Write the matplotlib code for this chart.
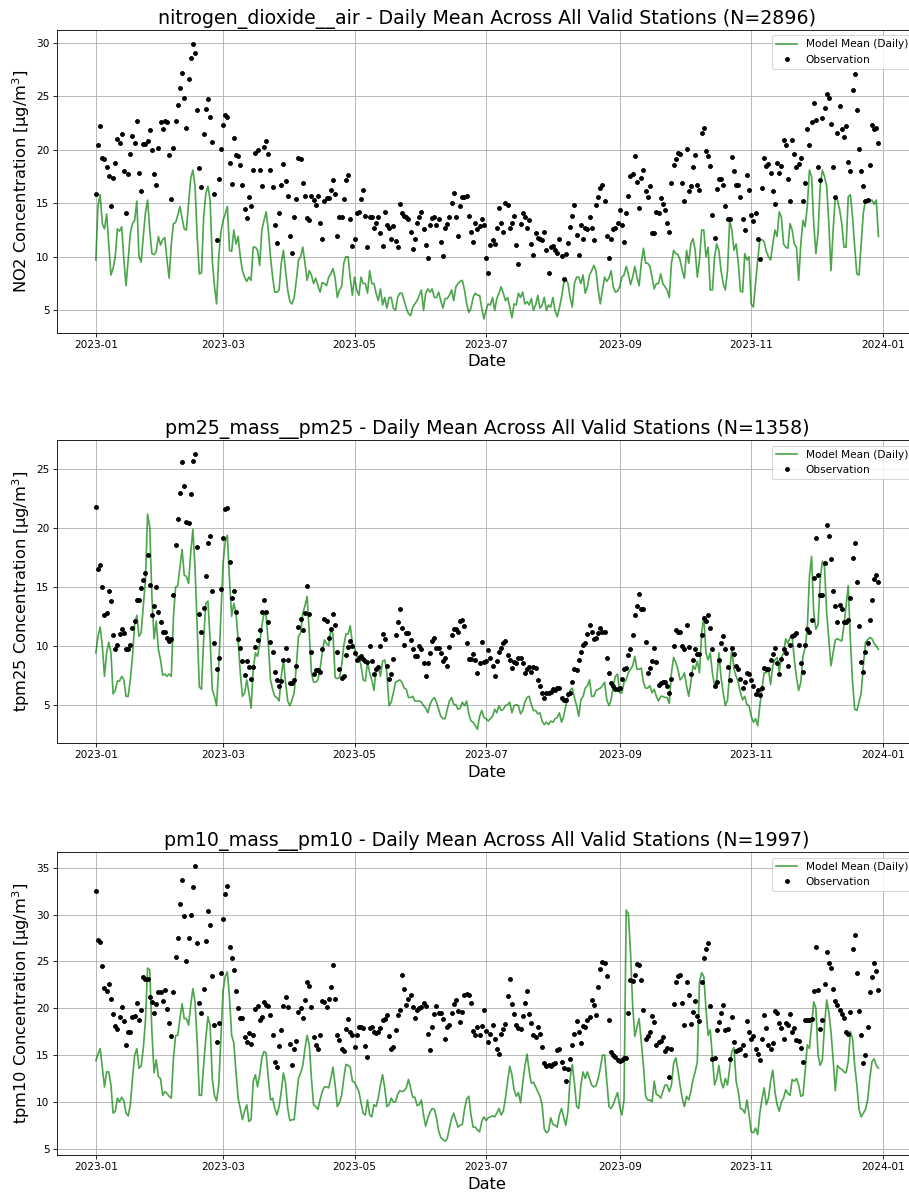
import numpy as np
import pandas as pd
import matplotlib
matplotlib.use("Agg")
import matplotlib.pyplot as plt
import matplotlib.dates as mdates

START = "2023-01-01"

# daily values (Jan 1 .. Dec 30, 2023)
no2_model = [
    9.7, 14.8, 15.8, 13.1, 12.6, 14.0, 11.2, 8.3, 8.9, 10.0,
    12.6, 12.4, 12.8, 9.7, 7.3, 9.7, 12.2, 13.1, 13.4, 15.2,
    10.0, 9.5, 11.9, 14.1, 15.3, 12.5, 10.3, 10.2, 10.5, 11.9,
    11.1, 11.6, 11.8, 9.7, 8.0, 11.2, 13.1, 13.2, 13.9, 14.7,
    13.6, 12.6, 12.5, 15.0, 17.3, 18.1, 16.6, 11.9, 8.4, 8.5,
    13.7, 15.9, 16.6, 15.3, 9.7, 7.3, 5.6, 10.0, 12.3, 13.4,
    14.0, 14.7, 10.6, 10.5, 12.5, 11.2, 11.9, 10.0, 8.7, 8.1,
    7.7, 8.1, 7.8, 10.9, 10.9, 10.6, 9.2, 12.5, 13.4, 14.2,
    12.5, 10.0, 8.1, 6.7, 6.7, 6.9, 9.4, 10.6, 8.7, 6.9,
    5.8, 5.6, 6.2, 7.8, 9.7, 10.0, 10.9, 9.4, 7.8, 8.7,
    8.3, 7.5, 8.0, 7.3, 6.7, 7.6, 7.5, 7.3, 8.1, 8.4,
    8.9, 8.0, 6.2, 6.9, 7.2, 9.4, 10.0, 10.0, 8.0, 6.4,
    8.1, 6.9, 6.4, 8.1, 7.5,
    7.5, 6.6, 8.7, 7.5, 7.5, 6.6, 5.9, 7.0, 5.5, 6.2,
    5.2, 6.2, 6.2, 5.2, 5.0, 6.2, 6.6, 6.6, 5.9, 5.2,
    4.7, 4.5, 5.3, 5.6, 5.9, 6.4, 6.9, 5.0, 6.6, 7.0,
    6.7, 7.0, 6.2, 6.2, 6.7, 5.9, 5.2, 6.1, 6.1, 6.4,
    6.9, 5.9, 7.2, 7.5, 7.7, 7.8, 6.9, 5.6, 4.8, 5.2,
    6.2, 6.6, 6.4, 6.4, 5.2, 4.2, 5.0, 5.6, 5.5, 6.2,
    5.0, 6.1, 6.6, 7.2, 6.6, 5.9, 6.2, 5.3, 4.3, 5.6,
    5.5, 6.6, 6.2, 6.7, 5.6, 5.8, 5.5, 6.1, 5.0, 5.5,
    6.4, 5.2, 5.5, 6.2, 5.0, 5.5, 5.3, 6.2, 5.0, 4.4,
    5.2, 6.2, 7.5, 8.0, 7.5, 6.2, 5.3, 7.5, 8.1, 8.1,
    7.5, 8.3, 6.6, 7.2, 8.3, 8.7, 9.2, 8.7, 6.9, 5.6,
    6.9, 8.1, 7.7, 8.0, 8.7, 7.2, 6.7, 6.8, 7.2, 8.1,
    8.3, 9.1, 8.4,
    7.4, 8.1, 9.1, 8.1, 7.3, 9.4, 10.8, 9.4, 9.4, 9.1,
    8.1, 7.0, 7.5, 7.5, 8.4, 7.5, 7.2, 6.9, 6.2, 9.4,
    10.6, 10.3, 10.2, 9.7, 8.7, 8.0, 10.6, 9.4, 11.2, 11.7,
    10.6, 8.1, 9.7, 12.5, 12.5, 10.0, 10.9, 6.9, 6.9, 10.0,
    11.2, 10.6, 8.7, 7.5, 6.9, 8.7, 13.4, 12.5, 10.6, 11.2,
    9.4, 6.8, 6.7, 10.3, 9.7, 10.0, 5.6, 5.3, 7.5, 9.7,
    11.6, 11.6, 11.4, 10.5, 10.0, 9.7, 11.2, 12.5, 11.9, 14.2,
    13.7, 11.2, 10.9, 10.8, 13.1, 12.5, 11.2, 10.9, 7.8, 11.2,
    13.4, 12.8, 14.7, 18.1, 17.5, 13.1, 10.3, 12.2, 16.6, 18.1,
    17.5, 16.6, 13.1, 8.7, 12.5, 15.6, 15.3, 14.4, 13.1, 10.9,
    10.9, 15.6, 15.8, 13.7, 10.9, 8.4, 8.3, 11.2, 14.1, 15.3,
    15.2, 15.2, 15.3, 14.9, 15.3, 11.9,
]
no2_obs = [
    15.9, 20.4, 22.2, 19.2, 19.1, 18.4, 17.5, 14.7, 17.4, 18.8,
    21.0, 20.6, 21.5, 18.0, 14.1, 17.7, 19.6, 21.3, 20.6, 22.7,
    17.8, 16.1, 20.5, 20.5, 20.8, 21.8, 20.0, 17.7, 16.7, 20.2,
    22.6, 21.9, 22.7, 22.6, 19.5, 15.4, 20.2, 22.7, 24.2, 25.8,
    27.2, 24.8, 22.0, 26.6, 28.6, 29.9, 29.0, 23.7, 18.3, 16.5,
    21.5, 23.8, 24.7, 23.1, 20.7, 15.9, 11.6, 17.3, 20.1, 22.3,
    23.2, 23.1, 18.8, 16.8, 21.1, 19.5, 19.4, 18.6, 16.7, 14.5,
    13.6, 15.6, 14.7, 18.1, 19.7, 20.0, 18.1, 16.6, 20.3, 20.8,
    19.6, 18.1, 16.5, 13.0, 11.3, 14.1, 16.7, 18.7, 17.1, 15.7,
    11.9, 10.4, 13.7, 15.4, 19.2, 19.1, 16.9, 15.7, 13.6, 13.4,
    15.7, 15.3, 14.8, 15.7, 13.2, 11.7, 15.2, 15.5, 15.5, 16.2,
    17.2, 15.9, 11.9, 13.7, 13.7, 15.4, 17.2, 17.6, 13.5, 11.0,
    11.7, 14.1, 14.2, 15.4, 16.2, 13.8,
    10.9, 13.7, 13.7, 12.7, 13.2, 13.7, 12.2, 11.0, 14.2, 13.0,
    12.7, 11.7, 12.9, 11.5, 10.9, 14.9, 14.1, 13.8, 13.7, 13.5,
    12.3, 10.7, 11.7, 13.2, 13.7, 14.2, 12.6, 11.1, 9.9, 13.0,
    13.6, 13.7, 13.0, 13.5, 11.4, 10.1, 12.7, 13.1, 13.7, 15.0,
    16.0, 13.7, 11.9, 14.7, 15.6, 15.6, 15.7, 13.8, 12.3, 11.4,
    13.2, 12.6, 12.9, 13.5, 13.0, 9.9, 8.5, 11.1, 11.6, 11.2,
    12.7, 14.6, 13.2, 12.3, 15.0, 14.8, 12.7, 13.2, 13.8, 11.1,
    9.3, 13.1, 14.1, 13.7, 12.7, 13.4, 11.2, 10.2, 12.2, 11.8,
    11.7, 11.6, 12.3, 10.6, 8.5, 10.9, 11.0, 10.6, 10.4, 11.7,
    10.1, 7.9, 10.3, 11.3, 12.8, 13.8, 14.8, 12.0, 10.2, 13.0,
    11.7, 12.7, 12.6, 13.7, 12.7, 11.6, 14.8, 15.6, 16.4, 16.7,
    15.2, 11.9, 9.9, 11.7, 12.6, 12.7, 13.2, 14.4, 13.0, 11.4,
    14.1, 15.7, 17.5, 17.7, 19.4, 17.0, 14.6,
    17.4, 18.1, 16.1, 15.6, 16.6, 12.2, 12.2, 14.2, 14.1, 15.5,
    14.9, 14.4, 13.2, 12.3, 16.9, 18.6, 19.1, 19.7, 19.6, 16.9,
    15.2, 20.1, 16.1, 16.6, 18.4, 19.5, 16.7, 16.2, 21.6, 22.0,
    19.9, 19.4, 18.5, 13.9, 11.8, 16.3, 17.3, 17.3, 16.7, 14.7,
    13.5, 13.5, 19.3, 18.0, 16.7, 16.7, 15.6, 13.5, 12.5, 17.6,
    16.2, 13.9, 13.3, 14.1, 11.7, 9.8, 16.4, 19.2, 18.5, 18.7,
    17.8, 16.1, 14.9, 18.8, 17.8, 18.5, 20.9, 20.4, 17.3, 15.2,
    20.9, 19.6, 18.4, 18.7, 19.2, 15.2, 16.9, 21.9, 20.4, 22.6,
    24.4, 22.8, 18.4, 17.2, 23.0, 23.9, 25.2, 24.8, 22.4, 18.4,
    15.6, 21.6, 24.1, 21.9, 21.2, 22.2, 18.9, 18.0, 25.6, 27.1,
    23.7, 20.1, 18.0, 16.6, 15.2, 15.3, 18.6, 22.3, 21.9, 22.0,
    20.6,
]

pm25_model = [
    9.4, 10.8, 11.6, 10.0, 7.4, 9.4, 10.3, 9.4, 5.9, 6.2,
    7.0, 7.0, 7.4, 7.1, 5.7, 5.7, 7.1, 9.1, 11.8, 12.6,
    10.8, 11.1, 13.4, 15.6, 21.2, 20.1, 14.2, 10.6, 12.1, 9.7,
    8.8, 7.5, 7.6, 7.4, 7.6, 7.4, 12.5, 15.0, 15.1, 16.7,
    18.2, 16.0, 15.9, 15.3, 17.9, 19.9, 16.7, 11.7, 6.5, 6.3,
    10.5, 13.6, 13.8, 10.5, 6.3, 5.7, 4.9, 8.3, 12.5, 17.0,
    18.8, 19.4, 15.6, 12.5, 13.6, 12.8, 10.5, 7.7, 5.7, 6.0,
    7.1, 6.0, 4.7, 8.0, 9.4, 9.1, 10.2, 11.7, 12.8, 12.5,
    10.2, 7.1, 6.3, 5.7, 5.6, 5.3, 7.4, 8.8, 6.9, 5.3,
    4.9, 5.4, 6.0, 8.3, 10.8, 11.1, 12.8, 13.4, 14.2, 11.1,
    7.7, 6.9, 6.9, 7.1, 8.0, 9.4, 10.5, 10.2, 10.0, 11.4,
    11.0, 7.3, 7.2, 7.3, 8.3, 10.0, 11.0, 11.0, 11.7, 10.2,
    9.8, 9.1, 9.1, 8.3, 7.1, 7.0,
    8.6, 7.7, 7.1, 6.2, 8.0, 8.3, 7.4, 8.7, 8.8, 7.7,
    4.9, 5.2, 6.0, 6.9, 7.0, 7.1, 6.9, 6.4, 6.3, 5.6,
    5.6, 5.7, 5.3, 5.3, 5.3, 5.2, 4.9, 4.7, 4.3, 5.0,
    5.4, 5.6, 5.2, 4.6, 4.0, 3.8, 3.8, 4.6, 5.3, 5.6,
    5.0, 5.0, 4.6, 4.7, 5.2, 4.9, 5.3, 4.2, 3.6, 3.5,
    3.2, 2.9, 4.0, 4.5, 3.9, 3.8, 3.6, 3.8, 4.0, 4.6,
    4.3, 4.9, 4.5, 4.6, 4.9, 5.0, 5.2, 4.3, 4.9, 5.0,
    4.9, 4.2, 4.5, 5.2, 5.6, 5.7, 5.0, 4.5, 4.5, 4.2,
    4.3, 3.6, 3.3, 3.5, 3.3, 3.6, 3.5, 3.8, 3.9, 4.3,
    3.5, 4.0, 4.9, 5.7, 6.2, 6.4, 5.6, 4.9, 4.0, 5.4,
    5.7, 6.4, 6.6, 7.1, 5.7, 5.7, 6.2, 6.3, 6.4, 6.6,
    6.9, 5.4, 4.9, 5.4, 6.6, 7.4, 7.6, 6.0, 6.0, 6.9,
    7.1, 7.7, 8.0, 8.3, 9.1, 8.0,
    8.0, 8.1, 6.9, 6.4, 6.4, 6.6, 6.0, 6.3, 5.7, 5.3,
    5.7, 5.7, 5.6, 5.6, 5.1, 7.7, 9.0, 8.6, 8.0, 7.1,
    7.3, 7.7, 6.6, 5.7, 6.9, 8.3, 8.0, 8.7, 7.7, 11.1,
    12.5, 9.4, 8.8, 9.4, 7.7, 6.6, 7.1, 9.4, 7.3, 6.0,
    4.9, 5.4, 7.7, 9.8, 8.0, 7.4, 6.9, 6.0, 5.4, 5.7,
    5.0, 4.9, 4.0, 3.5, 3.8, 3.2, 4.9, 6.4, 7.7, 7.7,
    8.0, 6.7, 8.3, 8.8, 9.0, 7.8, 9.0, 9.4, 10.6, 10.2,
    10.7, 10.8, 8.8, 7.3, 6.2, 6.9, 9.1, 9.8, 11.4, 15.9,
    17.6, 12.8, 11.4, 11.8, 15.6, 17.2, 16.7, 12.8, 10.5, 8.3,
    9.4, 10.5, 10.6, 10.5, 10.4, 11.7, 13.4, 15.1, 10.5, 6.9,
    4.6, 4.5, 5.2, 6.0, 8.3, 10.3, 10.5, 10.7, 10.6, 10.2,
    10.0, 9.7,
]
pm25_obs = [
    21.8, 16.5, 16.9, 15.0, 12.6, 12.8, 14.7, 13.8, 10.9, 9.7,
    10.1, 11.0, 11.4, 11.1, 9.7, 9.7, 10.1, 11.5, 12.1, 13.9,
    13.9, 14.9, 15.6, 16.2, 17.7, 15.2, 12.6, 13.4, 15.0, 12.9,
    12.0, 11.2, 11.2, 10.7, 10.4, 10.6, 14.3, 18.6, 20.8, 23.0,
    25.6, 23.6, 20.5, 20.4, 22.9, 25.7, 26.3, 18.4, 12.7, 11.2,
    13.2, 15.9, 18.7, 19.3, 14.7, 10.2, 8.0, 9.0, 14.8, 19.2,
    21.6, 21.7, 17.1, 14.1, 14.7, 12.9, 10.6, 9.8, 8.7, 7.5,
    8.7, 8.2, 7.2, 8.2, 9.9, 10.5, 11.3, 12.9, 13.9, 12.9,
    12.0, 10.3, 9.5, 7.8, 7.1, 6.6, 7.0, 8.8, 9.8, 8.8,
    6.8, 6.8, 7.1, 8.3, 11.6, 12.3, 11.3, 12.8, 15.1, 12.7,
    9.5, 7.6, 7.9, 7.9, 7.8, 9.7, 12.3, 12.1, 10.7, 11.4,
    12.7, 11.8, 9.5, 8.0, 7.3, 7.4, 9.2, 9.9, 10.4, 10.0,
    9.4, 8.8, 9.0, 9.1, 8.9, 8.7, 8.6,
    10.0, 8.7, 7.6, 8.0, 8.2, 10.0, 11.0, 10.6, 8.3, 7.2,
    7.6, 8.9, 10.9, 12.0, 13.1, 11.5, 10.1, 11.1, 11.1, 10.5,
    9.7, 9.1, 9.1, 10.0, 9.7, 8.5, 7.4, 8.5, 9.4, 10.4,
    10.7, 9.8, 9.8, 9.4, 8.7, 9.0, 8.3, 9.9, 10.9, 11.4,
    11.4, 11.2, 12.1, 12.2, 11.7, 10.2, 8.9, 8.9, 9.3, 8.8,
    7.7, 8.5, 10.3, 8.6, 8.7, 9.6, 9.0, 8.3, 7.4, 8.7,
    9.5, 9.8, 10.2, 10.4, 9.2, 8.8, 8.1, 8.6, 8.5, 9.0,
    9.0, 8.5, 7.7, 8.0, 8.2, 7.8, 8.2, 8.1, 7.1, 6.6,
    6.0, 5.6, 6.0, 6.0, 6.1, 6.3, 6.2, 6.4, 6.4, 5.6,
    5.4, 5.4, 5.9, 6.0, 6.9, 8.0, 7.9, 8.8, 9.5, 10.1,
    10.2, 11.0, 11.8, 11.2, 10.6, 10.7, 11.1, 11.5, 11.2, 11.2,
    9.0, 7.7, 6.8, 6.6, 6.3, 6.3, 6.4, 7.2, 8.0, 8.1,
    9.2, 9.7, 10.9, 12.6, 13.4, 14.4,
    13.1, 13.1, 10.3, 7.7, 8.1, 8.7, 9.8, 8.6, 6.7, 6.8,
    6.9, 6.9, 6.6, 6.0, 7.2, 10.0, 11.3, 11.2, 11.2, 10.0,
    9.7, 11.8, 9.9, 7.6, 8.8, 9.7, 9.3, 9.3, 10.9, 12.4,
    12.1, 12.6, 11.5, 9.7, 6.6, 6.9, 8.8, 10.2, 10.8, 9.7,
    8.2, 7.1, 9.8, 9.3, 8.3, 8.0, 7.2, 6.4, 6.9, 7.7,
    7.6, 7.1, 6.6, 5.9, 6.2, 5.8, 6.4, 8.1, 8.0, 8.0,
    8.8, 9.3, 9.8, 8.5, 7.6, 8.9, 9.7, 9.4, 8.3, 10.1,
    10.8, 10.9, 11.1, 10.1, 8.5, 7.8, 10.1, 11.4, 11.2, 12.2,
    15.8, 19.2, 16.0, 14.3, 14.3, 17.0, 20.3, 19.3, 17.4, 14.7,
    13.4, 12.0, 13.5, 13.1, 12.0, 12.0, 12.2, 14.1, 17.5, 18.7,
    15.4, 11.7, 8.6, 7.8, 9.5, 10.2, 12.2, 13.9, 15.7, 16.0,
    15.4,
]

pm10_model = [
    14.4, 15.1, 15.7, 13.6, 11.6, 13.2, 13.2, 11.8, 8.8, 9.0,
    10.4, 10.0, 10.5, 10.1, 8.8, 8.5, 9.7, 12.5, 15.0, 15.7,
    13.6, 13.8, 15.7, 18.6, 24.3, 24.1, 17.5, 13.1, 14.5, 12.7,
    12.5, 10.7, 11.1, 10.9, 10.6, 10.4, 14.7, 17.1, 17.1, 18.9,
    20.5, 18.9, 18.9, 18.2, 20.3, 22.1, 20.7, 16.4, 10.7, 10.7,
    13.9, 16.8, 19.1, 18.2, 12.5, 10.7, 10.1, 11.8, 16.8, 21.8,
    23.4, 23.9, 21.1, 17.1, 16.3, 13.2, 10.4, 9.3, 8.1, 9.0,
    9.7, 7.9, 8.1, 12.2, 12.9, 11.6, 12.9, 14.7, 15.4, 15.2,
    12.5, 10.2, 10.4, 9.3, 8.6, 9.5, 11.1, 13.1, 12.0, 9.3,
    8.0, 8.1, 8.1, 10.4, 12.5, 13.1, 13.9, 15.7, 17.1, 16.1,
    12.5, 9.7, 9.5, 9.2, 10.2, 11.1, 11.6, 11.6, 11.5, 12.5,
    13.7, 11.8, 9.5, 9.9, 10.7, 12.5, 14.0, 13.9, 13.7, 12.2,
    12.1, 11.6, 11.1, 9.9, 8.8, 8.6,
    10.2, 8.6, 8.4, 9.7, 9.5, 10.4, 11.8, 12.9, 11.5, 9.5,
    9.7, 10.4, 10.0, 10.0, 10.8, 11.2, 11.1, 11.2, 11.5, 12.4,
    11.5, 10.5, 10.5, 9.6, 9.7, 10.2, 8.6, 7.4, 8.3, 8.9,
    9.3, 9.2, 8.3, 6.9, 6.2, 6.0, 5.8, 6.1, 7.2, 8.2, 8.8,
    8.0, 7.3, 7.5, 7.6, 9.2, 10.3, 10.6, 8.6, 7.3, 7.3, 7.0,
    6.8, 7.9, 8.4, 8.0, 8.3, 8.4, 8.5, 8.4, 8.8, 9.3,
    8.6, 9.0, 10.4, 12.2, 13.8, 12.9, 11.3, 10.6, 11.0, 9.9,
    12.0, 13.8, 15.1, 13.3, 12.0, 12.1, 11.6, 11.1, 10.6, 9.7,
    7.1, 6.7, 6.9, 8.3, 7.6, 7.5, 7.3, 8.6, 9.3, 8.4,
    7.5, 9.0, 12.5, 14.0, 12.0, 9.5, 9.3, 11.8, 13.2, 12.5,
    13.2, 12.5, 11.8, 11.6, 11.7, 12.5, 13.6, 15.0, 15.0, 12.2,
    9.5, 9.3, 9.7, 10.4, 11.0, 9.5, 8.6, 10.2, 30.5, 30.1,
    26.0, 20.3, 17.0, 18.0, 18.9,
    16.4, 13.9, 10.6, 10.2, 10.2, 10.0, 12.2, 10.8, 10.7, 10.4,
    11.1, 11.8, 11.8, 11.1, 11.8, 14.1, 14.7, 13.4, 11.8, 10.4,
    9.5, 10.6, 10.2, 11.1, 12.4, 13.2, 14.3, 22.8, 23.8, 23.4,
    20.0, 17.1, 17.7, 14.7, 11.8, 12.5, 13.9, 12.2, 11.5, 12.5,
    11.8, 13.6, 15.4, 15.8, 12.2, 11.1, 9.3, 9.2, 8.8, 10.2,
    8.6, 6.8, 6.7, 7.2, 6.5, 8.8, 10.3, 11.5, 9.7, 10.4,
    12.2, 13.4, 11.1, 9.7, 9.0, 10.0, 10.4, 11.3, 10.9, 10.7,
    12.4, 12.2, 12.5, 11.8, 10.6, 10.7, 13.2, 16.1, 15.7, 18.2,
    20.7, 20.0, 15.0, 13.9, 14.5, 18.2, 20.9, 19.6, 17.5, 14.5,
    11.2, 13.9, 13.6, 13.5, 13.2, 13.1, 14.3, 17.5, 16.8, 13.9,
    11.8, 9.2, 8.4, 8.8, 9.2, 10.2, 12.5, 14.3, 14.6, 13.9,
    13.6,
]
pm10_obs = [
    32.5, 27.3, 27.1, 24.5, 22.2, 21.8, 22.6, 21.0, 19.4, 18.1,
    17.8, 19.1, 20.1, 18.6, 16.1, 17.5, 17.5, 19.1, 19.2, 20.6,
    18.7, 19.8, 23.3, 23.1, 23.1, 21.2, 20.7, 19.5, 20.5, 21.7,
    21.7, 20.8, 22.0, 19.9, 18.4, 17.0, 21.7, 25.5, 27.5, 31.1,
    33.7, 29.9, 25.1, 27.5, 30.0, 33.0, 35.2, 27.0, 20.6, 19.5,
    22.1, 27.2, 30.4, 28.9, 23.5, 18.2, 16.4, 18.4, 23.8, 29.5,
    32.2, 33.1, 26.6, 25.4, 24.1, 21.8, 20.0, 19.0, 19.0, 16.9,
    16.4, 17.4, 16.2, 17.2, 19.9, 20.2, 18.8, 19.1, 20.7, 20.4,
    20.2, 19.3, 17.2, 14.3, 13.7, 16.0, 17.7, 20.2, 21.2, 20.1,
    16.2, 13.9, 15.7, 16.5, 19.6, 20.0, 19.0, 20.9, 22.8, 22.4,
    20.1, 16.9, 16.1, 15.7, 17.1, 20.8, 20.7, 20.1, 21.0, 22.3,
    24.6, 21.0, 17.1, 16.6, 15.7, 15.4, 17.8, 18.9, 17.5, 17.2,
    15.9, 17.1, 18.0, 18.0, 17.9, 16.0, 14.8,
    17.9, 18.0, 17.5, 17.4, 17.5, 17.9, 18.7, 18.9, 19.3, 17.0,
    15.6, 15.9, 17.7, 19.3, 19.8, 23.6, 22.1, 20.3, 21.0, 21.4,
    20.1, 19.0, 19.8, 20.0, 20.1, 20.6, 20.2, 17.3, 15.5, 18.0,
    19.4, 20.2, 19.5, 19.5, 18.9, 16.7, 18.0, 18.2, 19.5, 20.5,
    20.9, 19.7, 18.5, 19.6, 21.4, 21.5, 21.4, 20.6, 17.6, 17.1,
    18.0, 17.2, 18.1, 19.8, 17.6, 16.4, 17.3, 18.2, 16.7, 15.6,
    15.1, 17.3, 17.8, 18.3, 21.3, 23.1, 20.5, 19.4, 18.2, 17.9,
    17.8, 19.2, 20.6, 21.9, 19.4, 18.4, 17.2, 16.9, 18.0, 17.3,
    15.9, 14.2, 13.8, 13.9, 13.8, 14.0, 14.2, 15.5, 15.7, 14.3,
    13.6, 12.2, 13.5, 14.6, 16.1, 17.3, 18.6, 17.5, 16.3, 18.1,
    18.0, 18.7, 19.1, 20.9, 20.3, 19.3, 22.3, 24.2, 24.9, 24.8,
    23.4, 18.8, 15.3, 15.0, 14.8, 14.5, 14.4, 14.5, 14.7, 14.7,
    19.5, 23.0, 22.9, 23.6, 24.7, 24.6, 23.0,
    19.8, 16.7, 17.0, 17.5, 19.2, 18.5, 16.1, 16.4, 16.5, 16.9,
    15.4, 15.8, 12.7, 15.7, 20.5, 22.8, 23.5, 23.6, 20.6, 18.2,
    22.8, 21.4, 18.3, 19.6, 20.8, 19.2, 18.6, 22.8, 25.4, 26.3,
    27.0, 20.2, 14.6, 14.7, 17.7, 18.5, 19.5, 20.3, 17.7,
    17.8, 14.6, 19.1, 16.4, 15.4, 15.5, 15.7, 16.1, 15.0, 18.6,
    17.5, 16.7, 17.0, 15.7, 15.1, 14.5, 16.7, 19.3, 17.9, 16.1,
    15.7, 16.3, 19.7, 19.5, 18.4, 17.9, 16.7, 18.4, 18.2, 19.4,
    17.5, 17.9, 16.6, 16.5, 15.8, 14.3, 18.7, 18.7, 18.8, 18.9,
    21.9, 26.6, 22.0, 17.8, 18.8, 22.6, 26.0, 24.8, 24.3, 22.1,
    20.8, 20.4, 19.8, 19.4, 19.0, 17.5, 17.3, 19.6, 26.3, 27.8,
    23.8, 19.7, 17.2, 14.2, 15.0, 18.0, 21.7, 23.3, 24.8, 24.0,
    22.0,
]

panels = [
    ("nitrogen_dioxide__air - Daily Mean Across All Valid Stations (N=2896)",
     "NO2 Concentration [µg/m$^3$]", no2_model, no2_obs),
    ("pm25_mass__pm25 - Daily Mean Across All Valid Stations (N=1358)",
     "tpm25 Concentration [µg/m$^3$]", pm25_model, pm25_obs),
    ("pm10_mass__pm10 - Daily Mean Across All Valid Stations (N=1997)",
     "tpm10 Concentration [µg/m$^3$]", pm10_model, pm10_obs),
]

DPI = 75.75
fig = plt.figure(figsize=(909 / DPI, 1194 / DPI), dpi=DPI)
bottoms = [0.7214, 0.3777, 0.0327]

for (title, ylabel, model, obs), b in zip(panels, bottoms):
    ax = fig.add_axes([0.0624, b, 0.947, 0.2535])
    d_model = pd.date_range(START, periods=len(model), freq="D")
    d_obs = pd.date_range(START, periods=len(obs), freq="D")
    ax.plot(d_model, model, color="green", alpha=0.7, lw=1.6, label="Model Mean (Daily)")
    ax.plot(d_obs, obs, "o", color="black", ms=3.6, label="Observation")
    ax.set_title(title, fontsize=18)
    ax.set_xlabel("Date", fontsize=15.5)
    ax.set_ylabel(ylabel, fontsize=15.5)
    ax.xaxis.set_major_locator(mdates.MonthLocator(bymonth=[1, 3, 5, 7, 9, 11]))
    ax.xaxis.set_major_formatter(mdates.DateFormatter("%Y-%m"))
    ax.tick_params(labelsize=10)
    ax.grid(True)
    ax.legend(loc="upper right", fontsize=10)

fig.savefig("out.png", dpi=DPI)
